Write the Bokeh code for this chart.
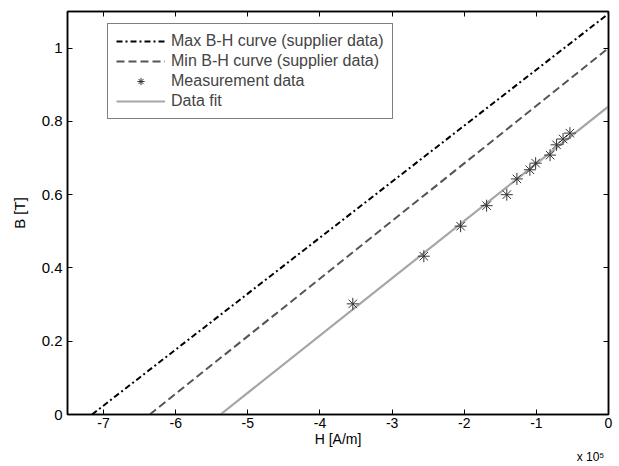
from bokeh.plotting import figure
from bokeh.models import (LinearAxis, FixedTicker, CustomJSTickFormatter, Range1d,
                          Legend, LegendItem)
from bokeh.embed import file_html
from bokeh.resources import INLINE

# --- data (H in A/m, B in T) ---
max_H = [-7.16e5, 0.0]
max_B = [0.0, 1.094]
min_H = [-6.36e5, 0.0]
min_B = [0.0, 1.0]
fit_H = [-5.38e5, 0.0]
fit_B = [0.0, 0.841]
meas_H = [-3.545e5, -2.56e5, -2.05e5, -1.69e5, -1.41e5, -1.27e5, -1.09e5,
          -1.01e5, -0.81e5, -0.72e5, -0.63e5, -0.535e5]
meas_B = [0.302, 0.432, 0.514, 0.570, 0.600, 0.643, 0.668, 0.686, 0.708,
          0.736, 0.752, 0.768]
x_ticks = [-7e5, -6e5, -5e5, -4e5, -3e5, -2e5, -1e5, 0]
y_ticks = [0, 0.2, 0.4, 0.6, 0.8, 1.0]
exp_label_pos = [-0.25e5]
exp_label_text = "x 10\u2075"

FONT = "Liberation Sans"
FS = "14px"

p = figure(width=619, height=466, output_backend="svg", toolbar_location=None,
           x_range=Range1d(-7.5e5, 0), y_range=Range1d(0, 1.1),
           min_border_left=67, min_border_right=11, min_border_top=11,
           min_border_bottom=49, background_fill_color="white",
           border_fill_color="white")
p.grid.visible = False
p.outline_line_color = "black"
p.outline_line_width = 1.5

xfmt = CustomJSTickFormatter(code="return (tick/1e5).toFixed(0);")
yfmt = CustomJSTickFormatter(code="return tick.toString();")

for ax in (p.xaxis[0], p.yaxis[0]):
    ax.major_tick_in = 5
    ax.major_tick_out = 0
    ax.minor_tick_in = 0
    ax.minor_tick_out = 0
    ax.axis_line_color = "black"
    ax.axis_line_width = 1.5
    ax.major_tick_line_color = "black"
    ax.major_label_text_font = FONT
    ax.major_label_text_font_size = "15px"
    ax.major_label_text_color = "black"
    ax.axis_label_text_font = FONT
    ax.axis_label_text_font_size = "15px"
    ax.axis_label_text_font_style = "normal"
    ax.axis_label_text_color = "black"

p.xaxis[0].ticker = FixedTicker(ticks=x_ticks)
p.xaxis[0].formatter = xfmt
p.xaxis[0].axis_label = "H [A/m]"
p.xaxis[0].major_label_text_font_size = FS
p.xaxis[0].axis_label_text_font_size = FS
p.xaxis[0].major_label_standoff = 3
p.xaxis[0].axis_label_standoff = 0
p.yaxis[0].ticker = FixedTicker(ticks=y_ticks)
p.yaxis[0].formatter = yfmt
p.yaxis[0].axis_label = "B [T]"
p.yaxis[0].major_label_standoff = 5
p.yaxis[0].axis_label_standoff = 11

# mirrored tick marks on top and right (minor ticks only, so no labels)
top = LinearAxis(ticker=FixedTicker(ticks=[], minor_ticks=x_ticks),
                 major_tick_in=0, major_tick_out=0, minor_tick_in=5, minor_tick_out=0,
                 minor_tick_line_color="black", major_label_standoff=0,
                 axis_line_width=1.5)
right = LinearAxis(ticker=FixedTicker(ticks=[], minor_ticks=y_ticks),
                   major_tick_in=0, major_tick_out=0, minor_tick_in=5, minor_tick_out=0,
                   minor_tick_line_color="black", major_label_standoff=0,
                   axis_line_width=1.5)
p.add_layout(top, "above")
p.add_layout(right, "right")

# exponent note "x 10^5" under the x axis (a second, line-less axis)
exp_axis = LinearAxis(ticker=FixedTicker(ticks=exp_label_pos),
                      major_label_overrides={exp_label_pos[0]: exp_label_text},
                      axis_line_color=None, major_tick_line_color=None,
                      minor_tick_line_color=None, major_label_standoff=0,
                      major_tick_in=0, major_tick_out=0,
                      major_label_text_font=FONT, major_label_text_font_size="12px",
                      major_label_text_color="black")
p.add_layout(exp_axis, "below")

r_max = p.line(max_H, max_B, line_color="black", line_width=2, line_dash="6 3 2 3")
r_min = p.line(min_H, min_B, line_color="#555555", line_width=2, line_dash="8 4")
r_fit = p.line(fit_H, fit_B, line_color="#a6a6a6", line_width=2.2)
r_meas = p.scatter(meas_H, meas_B, marker="asterisk", size=12, line_color="#333333",
                   line_width=1)

legend = Legend(items=[
    LegendItem(label="Max B-H curve (supplier data)", renderers=[r_max]),
    LegendItem(label="Min B-H curve (supplier data)", renderers=[r_min]),
    LegendItem(label="Measurement data", renderers=[r_meas]),
    LegendItem(label="Data fit", renderers=[r_fit]),
], location=(40, 295), glyph_width=49, glyph_height=18, label_height=18,
    label_standoff=6, spacing=2, padding=8, margin=0,
    label_text_font=FONT, label_text_font_size="16px",
    border_line_color="black", border_line_width=1, background_fill_alpha=1)
p.add_layout(legend, "center")

open("out.html", "w").write(file_html(p, INLINE))
